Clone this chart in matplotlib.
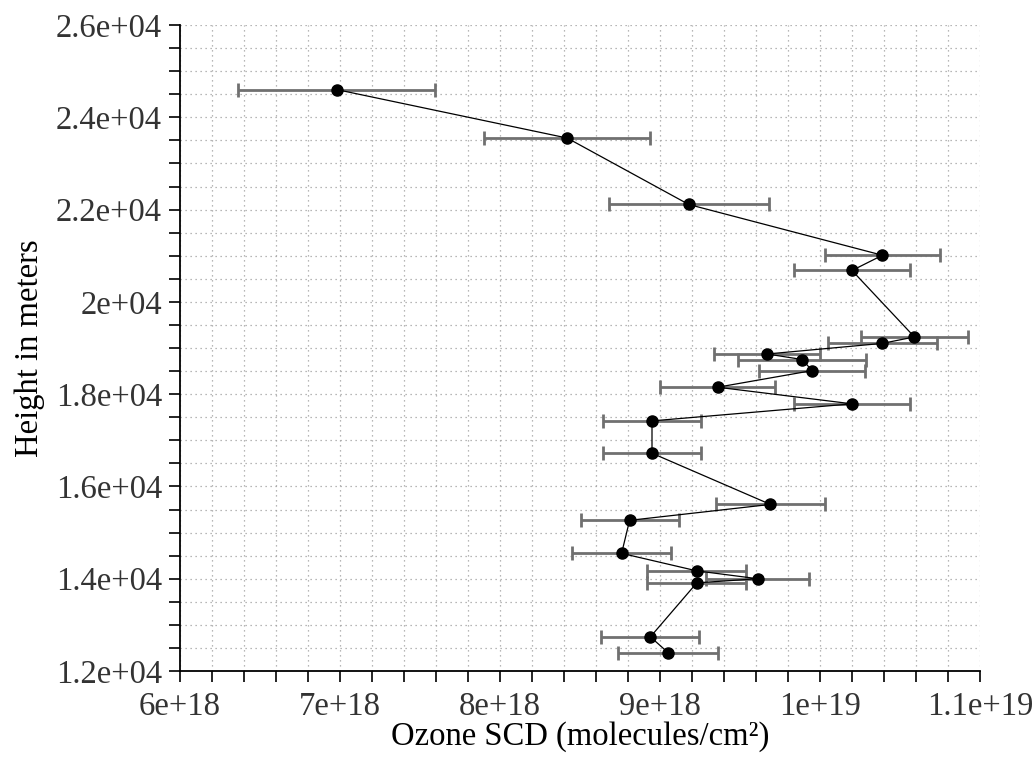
import matplotlib
matplotlib.use("Agg")
import matplotlib.pyplot as plt
from matplotlib.ticker import MultipleLocator

# Data (ozone slant column density vs height), ordered from top to bottom
ozone_scd = [6.98e18, 8.42e18, 9.18e18, 10.39e18, 10.20e18, 10.59e18, 10.39e18,
             9.67e18, 9.89e18, 9.95e18, 9.36e18, 10.20e18, 8.95e18, 8.95e18,
             9.69e18, 8.81e18, 8.76e18, 9.23e18, 9.61e18, 9.23e18, 8.94e18, 9.05e18]
height_m = [24600, 23550, 22110, 21010, 20680, 19240, 19100,
            18870, 18750, 18510, 18150, 17790, 17420, 16720,
            15610, 15265, 14550, 14170, 14000, 13910, 12740, 12400]
scd_err = [0.615e18, 0.52e18, 0.50e18, 0.36e18, 0.36e18, 0.335e18, 0.34e18,
           0.33e18, 0.40e18, 0.33e18, 0.357e18, 0.365e18, 0.306e18, 0.306e18,
           0.34e18, 0.306e18, 0.31e18, 0.31e18, 0.32e18, 0.31e18, 0.306e18, 0.31e18]

x_ticks = [6e18, 7e18, 8e18, 9e18, 1e19, 1.1e19]
x_tick_labels = ["6e+18", "7e+18", "8e+18", "9e+18", "1e+19", "1.1e+19"]
y_ticks = [12000, 14000, 16000, 18000, 20000, 22000, 24000, 26000]
y_tick_labels = ["1.2e+04", "1.4e+04", "1.6e+04", "1.8e+04", "2e+04", "2.2e+04", "2.4e+04", "2.6e+04"]

plt.rcParams['font.family'] = ['Liberation Serif', 'DejaVu Serif']

fig = plt.figure(figsize=(10.35, 7.6), dpi=100)
ax = fig.add_axes([180/1035, 1 - 671/760, 800/1035, 646/760])

ax.errorbar(ozone_scd, height_m, xerr=scd_err, fmt='none', ecolor='#707070',
            elinewidth=2.0, capsize=5.0, capthick=2.0, zorder=2)
ax.plot(ozone_scd, height_m, color='black', linewidth=0.9, zorder=3)
ax.plot(ozone_scd, height_m, 'o', color='black', markersize=8, zorder=4)

ax.set_xlim(6e18, 1.1e19)
ax.set_ylim(12000, 26000)
ax.set_xticks(x_ticks)
ax.set_xticklabels(x_tick_labels)
ax.set_yticks(y_ticks)
ax.set_yticklabels(y_tick_labels)
ax.xaxis.set_minor_locator(MultipleLocator(2e17))
ax.yaxis.set_minor_locator(MultipleLocator(500))

ax.grid(True, which='both', linestyle=(0, (1, 3)), color='#a0a0a0', linewidth=0.9)
ax.set_axisbelow(True)

for s in ['top', 'right']:
    ax.spines[s].set_visible(False)
for s in ['left', 'bottom']:
    ax.spines[s].set_linewidth(1.3)
    ax.spines[s].set_color('black')

ax.tick_params(which='both', direction='out', length=8, width=1.2, color='black',
               labelsize=23.5, labelcolor='#333333')
ax.tick_params(axis='x', pad=7)
ax.tick_params(axis='y', pad=5)

ax.set_xlabel("Ozone SCD (molecules/cm²)", fontsize=23.5, labelpad=-1)
ax.set_ylabel("Height in meters", fontsize=23.5, labelpad=8)

fig.savefig("out.png", dpi=100)
